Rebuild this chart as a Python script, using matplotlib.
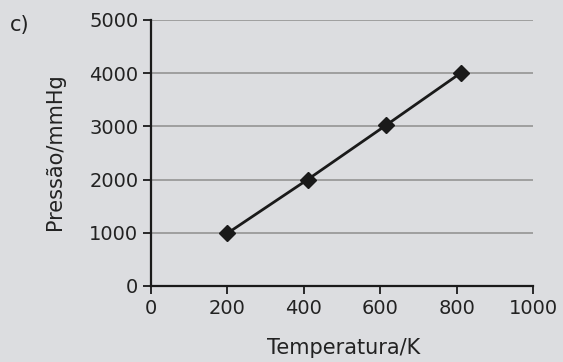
import matplotlib.pyplot as plt

temperatura = [200, 410, 615, 810]
pressao = [990, 2000, 3020, 4000]
x_ticks = [0, 200, 400, 600, 800, 1000]
y_ticks = [0, 1000, 2000, 3000, 4000, 5000]

bg = '#dcdde0'
txt = '#222222'
fig = plt.figure(figsize=(5.63, 3.62), dpi=100, facecolor=bg)
ax = fig.add_axes([0.268, 0.21, 0.679, 0.735], facecolor=bg)

for y in y_ticks[1:]:
    ax.axhline(y, color='#9a9a9a', lw=1.3, zorder=1)

ax.plot(temperatura, pressao, color='#1a1a1a', lw=2, marker='D', markersize=8,
        zorder=3, clip_on=False)

ax.set_xlim(0, 1000)
ax.set_ylim(0, 5000)
ax.set_xticks(x_ticks)
ax.set_yticks(y_ticks)
ax.tick_params(labelsize=14, length=6, width=1.3, color='#1a1a1a', labelcolor=txt)
ax.tick_params(axis='y', pad=3)
for s in ['top', 'right']:
    ax.spines[s].set_visible(False)
for s in ['left', 'bottom']:
    ax.spines[s].set_linewidth(1.6)
    ax.spines[s].set_color('#1a1a1a')

ax.set_xlabel('Temperatura/K', fontsize=15, color=txt)
ax.set_ylabel('Pressão/mmHg', fontsize=15, color=txt)
ax.xaxis.set_label_coords(0.503, -0.233)
ax.yaxis.set_label_coords(-0.251, 0.504)
ax.xaxis.label.set_va('center')
ax.yaxis.label.set_va('center')
fig.text(0.018, 0.93, 'c)', fontsize=15, color=txt, va='center')

fig.savefig('out.png', dpi=100, facecolor=bg)
